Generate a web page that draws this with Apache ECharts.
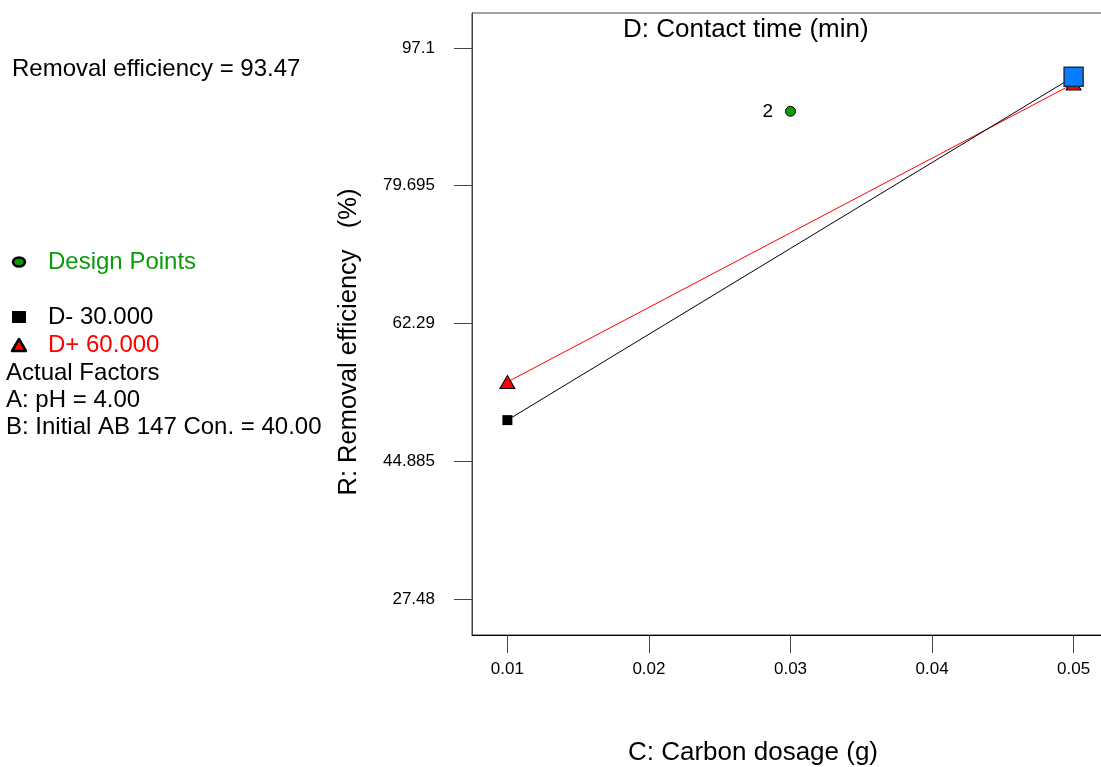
<!DOCTYPE html>
<html>
<head>
<meta charset="utf-8">
<script src="https://cdn.jsdelivr.net/npm/echarts@6/dist/echarts.min.js"></script>
<style>
  html, body { margin: 0; padding: 0; background: #fff; }
  #chart { width: 1101px; height: 767px; }
</style>
</head>
<body>
<div id="chart"></div>
<script>
// data
var dosage = [0.01, 0.05];
var dMinus = [50.08, 93.47];   // D- 30.000
var dPlus = [54.9, 92.6];      // D+ 60.000
var designX = [0.03];
var designY = [89.1];
var designLabel = ['2'];
var currentPoint = [0.05, 93.47];
var yTicks = [27.48, 44.885, 62.29, 79.695, 97.1];
var xTicks = [0.01, 0.02, 0.03, 0.04, 0.05];

var font = 'Liberation Sans, Arial, sans-serif';
var myChart = echarts.init(document.getElementById('chart'));

function pairs(xs, ys) {
    var out = [];
    for (var i = 0; i < xs.length; i++) out.push([xs[i], ys[i]]);
    return out;
}

function txt(x, y, s, color, size) {
    return {
        type: 'text', x: x, y: y,
        style: { text: s, fill: color, font: size + 'px ' + font, verticalAlign: 'middle' }
    };
}

var option = {
    animation: false,
    backgroundColor: '#fff',
    grid: {
        left: 472, top: 13, width: 637, bottom: 132,
        outerBoundsMode: 'none',
        containLabel: false,
        show: true, borderColor: '#444', borderWidth: 1
    },
    xAxis: {
        type: 'value',
        min: 0.0075, max: 0.0525,
        splitLine: { show: false },
        axisLine: { show: true, onZero: false, lineStyle: { color: '#000' } },
        axisTick: { show: true, length: 18, customValues: xTicks, lineStyle: { color: '#444' } },
        axisLabel: {
            customValues: xTicks, margin: 26, color: '#000', fontSize: 17, fontFamily: font,
            formatter: function (v) { return v.toFixed(2); }
        }
    },
    yAxis: {
        type: 'value',
        min: 22.93, max: 101.52,
        splitLine: { show: false },
        axisLine: { show: true, onZero: false, lineStyle: { color: '#444' } },
        axisTick: { show: true, length: 18, customValues: yTicks, lineStyle: { color: '#444' } },
        axisLabel: {
            customValues: yTicks, margin: 37, color: '#000', fontSize: 17, fontFamily: font,
            formatter: function (v) { return String(v); }
        }
    },
    series: [
        {
            name: 'D+',
            type: 'line',
            data: pairs(dosage, dPlus),
            symbol: 'triangle',
            symbolSize: [15, 13],
            lineStyle: { color: '#ff0000', width: 1 },
            itemStyle: { color: '#ff0000', borderColor: '#000', borderWidth: 1 },
            z: 2
        },
        {
            name: 'D-',
            type: 'line',
            data: pairs(dosage, dMinus),
            symbol: 'rect',
            symbolSize: 10,
            lineStyle: { color: '#000', width: 1 },
            itemStyle: { color: '#000' },
            z: 3
        },
        {
            name: 'Design Points',
            type: 'scatter',
            data: pairs(designX, designY),
            symbol: 'circle',
            symbolSize: 10,
            itemStyle: { color: '#0a9a0a', borderColor: '#000', borderWidth: 1, opacity: 1 },
            label: {
                show: true, position: 'left', distance: 12,
                color: '#000', fontSize: 19, fontFamily: font,
                formatter: function (p) { return designLabel[p.dataIndex]; }
            },
            z: 4
        },
        {
            name: 'Current',
            type: 'scatter',
            data: [currentPoint],
            symbol: 'rect',
            symbolSize: 19,
            itemStyle: { color: '#0a7cff', borderColor: '#1a2e50', borderWidth: 1.5, opacity: 1 },
            z: 5
        }
    ],
    graphic: [
        txt(12, 69, 'Removal efficiency = 93.47', '#000', 24),
        txt(623, 30, 'D: Contact time (min)', '#000', 26),
        txt(628, 753, 'C: Carbon dosage (g)', '#000', 26),
        {
            type: 'text', x: 349, y: 342, rotation: Math.PI / 2,
            style: { text: 'R: Removal efficiency   (%)', fill: '#000', font: '25.5px ' + font, align: 'center', verticalAlign: 'middle' }
        },
        // legend
        { type: 'ellipse', shape: { cx: 19, cy: 262, rx: 6, ry: 4.5 }, style: { fill: '#0a9a0a', stroke: '#000', lineWidth: 2.5 } },
        txt(48, 262, 'Design Points', '#0a9a0a', 24),
        { type: 'rect', shape: { x: 12, y: 311, width: 14, height: 12 }, style: { fill: '#000' } },
        txt(48, 317, 'D- 30.000', '#000', 24),
        { type: 'polygon', shape: { points: [[19, 339], [12, 351], [26, 351]] }, style: { fill: '#ff0000', stroke: '#000', lineWidth: 2.5, lineJoin: 'round' } },
        txt(48, 345, 'D+ 60.000', '#ff0000', 24),
        txt(6, 373, 'Actual Factors', '#000', 24),
        txt(6, 400, 'A: pH = 4.00', '#000', 24),
        txt(6, 427, 'B: Initial AB 147 Con. = 40.00', '#000', 24)
    ]
};

myChart.setOption(option);
</script>
</body>
</html>
